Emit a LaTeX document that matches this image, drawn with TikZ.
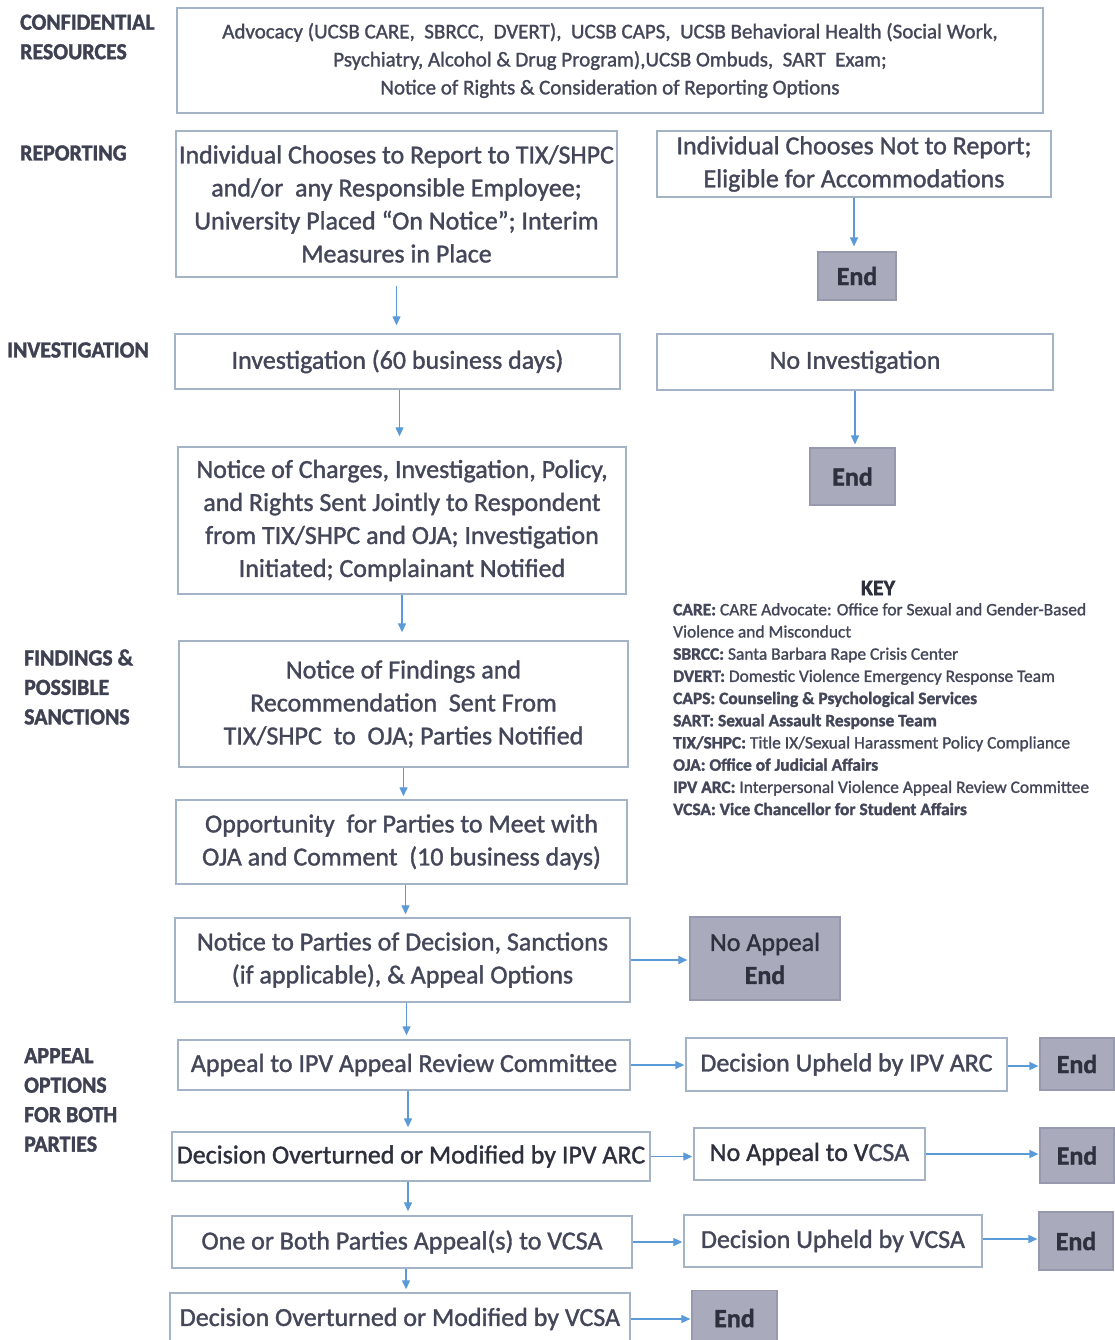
\documentclass[tikz,border=0pt]{standalone}
\usepackage{fontspec}
\setmainfont{Carlito}[UprightFeatures={FakeBold=1.3}, BoldFeatures={FakeBold=1.6}]
\newfontfamily\labfont{Carlito}[FakeStretch=0.95, BoldFeatures={FakeBold=1.6}]
\usetikzlibrary{arrows.meta,calc}
\definecolor{txt}{HTML}{44475A}
\definecolor{txtd}{HTML}{2E303E}
\definecolor{labc}{HTML}{3E4152}
\definecolor{boxc}{HTML}{A4B4C6}
\definecolor{endf}{HTML}{A9AABC}
\definecolor{endb}{HTML}{9799AE}
\definecolor{arrc}{HTML}{5A9AD8}
\newcommand\mainsz{\fontsize{26}{33}\selectfont}
\newcommand\confsz{\fontsize{21}{28}\selectfont}
\newcommand\labsz{\fontsize{23}{29.5}\selectfont}
\newcommand\keysz{\fontsize{17.4}{22.2}\selectfont}
\tikzset{
  box/.style={draw=boxc, line width=1.4pt, fill=white, inner sep=0pt, align=center, text=txt, font=\mainsz},
  endbox/.style={draw=endb, line width=1.2pt, fill=endf, inner sep=0pt, align=center, text=txtd, font=\bfseries\mainsz},
  arr/.style={draw=arrc, line width=1.3pt, -{Triangle[length=9pt,width=8pt]}},
  lab/.style={anchor=west, align=left, text=labc, font=\labfont\bfseries\labsz, inner sep=0pt},
}
\begin{document}
\begin{tikzpicture}[x=1pt,y=-1pt]
\fill[white] (0,0) rectangle (1115,1340);
\useasboundingbox (0,0) rectangle (1115,1340);

% left labels
\node[lab] (lconf) at (20,37) {CONFIDENTIAL\\RESOURCES};
\node[lab] (lrep) at (20,153) {REPORTING};
\node[lab] (linv) at (7,350) {INVESTIGATION};
\node[lab] (lfind) at (24,687) {FINDINGS \&\\POSSIBLE\\SANCTIONS};
\node[lab] (lapp) at (24,1100) {APPEAL\\OPTIONS\\FOR BOTH\\PARTIES};

% boxes
\node[box, font=\confsz, minimum width=866, minimum height=105] (conf) at (610,60.5)
 {Advocacy (UCSB CARE,\ \ SBRCC,\ \ DVERT),\ \ UCSB CAPS,\ \ UCSB Behavioral Health (Social Work,\\
  Psychiatry, Alcohol \& Drug Program),UCSB Ombuds,\ \ SART\ \ Exam;\\
  Notice of Rights \& Consideration of Reporting Options};
\node[box, minimum width=441, minimum height=146] (report) at (396.5,204)
 {Individual Chooses to Report to TIX/SHPC\\and/or\ \ any Responsible Employee;\\University Placed ``On Notice''; Interim\\Measures in Place};
\node[box, minimum width=394, minimum height=66] (notrep) at (854,164)
 {Individual Chooses Not to Report;\\Eligible for Accommodations};
\node[endbox, minimum width=78, minimum height=48] (end1) at (857,276) {End};
\node[box, minimum width=445, minimum height=55] (inv) at (397.5,361.5)
 {Investigation (60 business days)};
\node[box, minimum width=396, minimum height=56] (noinv) at (855,362)
 {No Investigation};
\node[endbox, minimum width=85, minimum height=57] (end2) at (852.5,476.5) {End};
\node[box, minimum width=448, minimum height=147] (charges) at (402,520.5)
 {Notice of Charges, Investigation, Policy,\\and Rights Sent Jointly to Respondent\\from TIX/SHPC and OJA; Investigation\\Initiated; Complainant Notified};
\node[box, minimum width=449, minimum height=126] (findings) at (403.5,704)
 {Notice of Findings and\\Recommendation\ \ Sent From\\TIX/SHPC\ \ to\ \ OJA; Parties Notified};
\node[box, minimum width=451, minimum height=84] (opp) at (401.5,842)
 {Opportunity\ \ for Parties to Meet with\\OJA and Comment\ \ (10 business days)};
\node[box, minimum width=455, minimum height=84] (notice) at (402.5,960)
 {Notice to Parties of Decision, Sanctions\\(if applicable), \& Appeal Options};
\node[endbox, font=\mainsz, minimum width=150, minimum height=83] (noappeal) at (765,958.5)
 {No Appeal\\\textbf{End}};
\node[box, minimum width=452, minimum height=50] (appeal) at (404,1065)
 {Appeal to IPV Appeal Review Committee};
\node[box, minimum width=321, minimum height=53] (upipv) at (846.5,1064.5)
 {Decision Upheld by IPV ARC};
\node[endbox, minimum width=74, minimum height=52] (end3) at (1077,1064) {End};
\node[box, text=txtd, minimum width=478, minimum height=49] (overipv) at (411,1156.5)
 {Decision Overturned or Modified by IPV ARC};
\node[box, minimum width=231, minimum height=52] (noappv) at (809.5,1154)
 {\textcolor{txtd}{No Appeal to V}CSA};
\node[endbox, minimum width=74, minimum height=55] (end4) at (1077,1155.5) {End};
\node[box, minimum width=460, minimum height=52] (onev) at (402,1242)
 {One or Both Parties Appeal(s) to VCSA};
\node[box, minimum width=298, minimum height=52] (upv) at (833,1241)
 {Decision Upheld by VCSA};
\node[endbox, minimum width=74, minimum height=58] (end5) at (1076,1241) {End};
\node[box, minimum width=460, minimum height=52] (overv) at (400,1319)
 {Decision Overturned or Modified by VCSA};
\node[endbox, minimum width=85, minimum height=55] (end6) at (734.5,1318) {End};

% key
\node[text=txtd, font=\bfseries\fontsize{22}{24}\selectfont, inner sep=0pt] (keyt) at (878,588) {KEY};
\node[anchor=north west, align=left, text=txt, font=\keysz, inner sep=0pt] (keyb) at (673,603)
 {\textbf{CARE:} CARE Advocate: Office for Sexual and Gender-Based\\
  Violence and Misconduct\\
  \textbf{SBRCC:} Santa Barbara Rape Crisis Center\\
  \textbf{DVERT:} Domestic Violence Emergency Response Team\\
  \textbf{CAPS: Counseling \& Psychological Services}\\
  \textbf{SART: Sexual Assault Response Team}\\
  \textbf{TIX/SHPC:} Title IX/Sexual Harassment Policy Compliance\\
  \textbf{OJA: Office of Judicial Affairs}\\
  \textbf{IPV ARC:} Interpersonal Violence Appeal Review Committee\\
  \textbf{VCSA: Vice Chancellor for Student Affairs}};

% vertical arrows
\draw[arr, shorten <=8pt, shorten >=8pt] (report.south) -- (report.south |- inv.north);
\draw[arr, shorten >=5pt] (notrep.south) -- (notrep.south |- end1.north);
\draw[arr, shorten >=3pt] (noinv.south) -- (noinv.south |- end2.north);
\draw[arr, shorten >=10pt] ([xshift=2pt]inv.south) -- ([xshift=2pt]inv.south |- charges.north);
\draw[arr, shorten >=8pt] (charges.south) -- (charges.south |- findings.north);
\draw[arr, shorten >=3pt] (findings.south) -- (findings.south |- opp.north);
\draw[arr, shorten >=3pt] ([xshift=4pt]opp.south) -- ([xshift=4pt]opp.south |- notice.north);
\draw[arr, shorten >=4pt] ([xshift=4pt]notice.south) -- ([xshift=4pt]notice.south |- appeal.north);
\draw[arr, shorten >=4pt] ([xshift=4pt]appeal.south) -- ([xshift=4pt]appeal.south |- overipv.north);
\draw[arr, shorten >=4pt] ([xshift=-3pt]overipv.south) -- ([xshift=-3pt]overipv.south |- onev.north);
\draw[arr, shorten >=3pt] ([xshift=4pt]onev.south) -- ([xshift=4pt]onev.south |- overv.north);

% horizontal arrows
\draw[arr, shorten >=2pt] (notice.east) -- (notice.east -| noappeal.west);
\draw[arr, shorten >=1pt] (appeal.east) -- (appeal.east -| upipv.west);
\draw[arr, shorten >=1pt] ([yshift=-1.5pt]upipv.east) -- ([yshift=-1.5pt]upipv.east -| end3.west);
\draw[arr, shorten >=1pt] (overipv.east) -- (overipv.east -| noappv.west);
\draw[arr, shorten >=1pt] (noappv.east) -- (noappv.east -| end4.west);
\draw[arr, shorten >=1pt] (onev.east) -- (onev.east -| upv.west);
\draw[arr, shorten >=1pt] ([yshift=2pt]upv.east) -- ([yshift=2pt]upv.east -| end5.west);
\draw[arr, shorten >=1pt] (overv.east) -- (overv.east -| end6.west);
\end{tikzpicture}
\end{document}
